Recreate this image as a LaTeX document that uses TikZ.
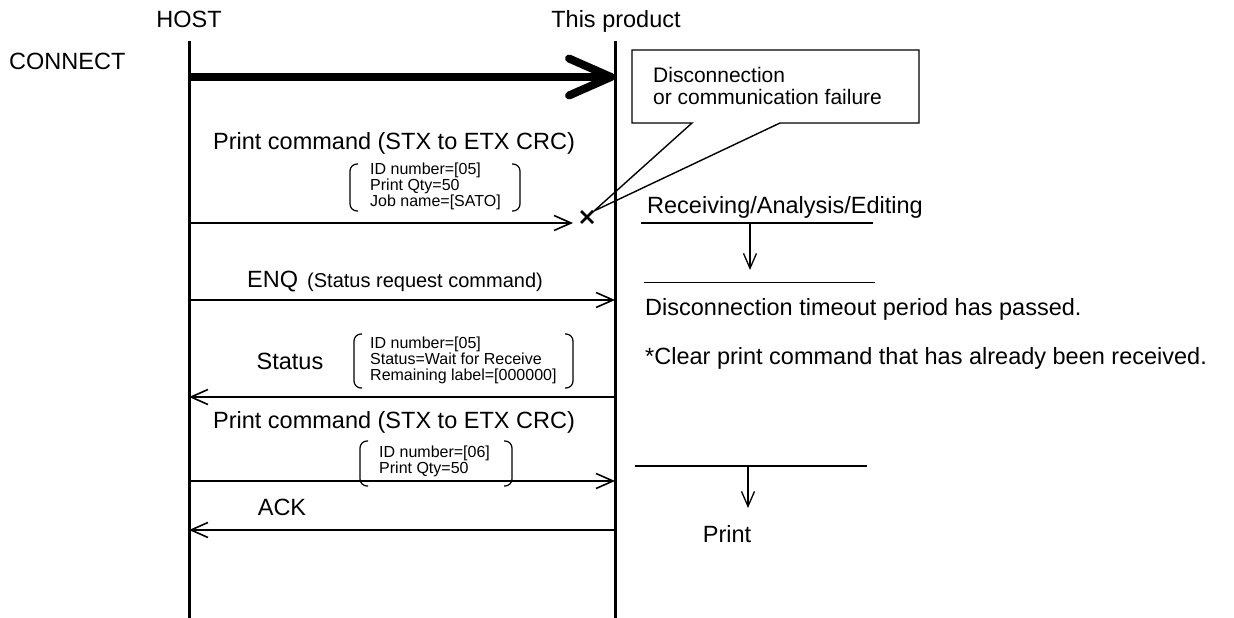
\documentclass[tikz,border=0pt]{standalone}
\usepackage{fontspec}
\setmainfont{Liberation Sans}
\usetikzlibrary{arrows.meta}
\newcommand{\brk}[4]{%
  \draw[paren] ({#1+8},#3) -- (#1,#3) -- (#1,#4) -- ({#1+8},#4);
  \draw[paren] ({#2-8},#3) -- (#2,#3) -- (#2,#4) -- ({#2-8},#4);}

\begin{document}
\begin{tikzpicture}[x=1pt, y=-1pt,
    life/.style={line width=3pt},
    connect/.style={line width=8pt, -{Straight Barb[length=42pt, width=37pt, round]}},
    msg/.style={line width=1.6pt, -{Straight Barb[length=17pt, width=15pt]}},
    flow/.style={line width=1.3pt, -{Straight Barb[length=15pt, width=13pt]}},
    bar/.style={line width=1.3pt},
    big/.style={font=\fontsize{23.5}{28}\selectfont, inner sep=0pt},
    mid/.style={font=\fontsize{20}{24}\selectfont, inner sep=0pt},
    note/.style={font=\fontsize{21}{22}\selectfont, inner sep=0pt, align=left, anchor=base west},
    small/.style={font=\fontsize{16}{16}\selectfont, inner sep=0pt, align=left, anchor=base west},
    paren/.style={line width=1.2pt, rounded corners=7pt}]
    \useasboundingbox (0,0) rectangle (1234,618);

    \node[big, anchor=base] (host) at (189,28) {HOST};
    \node[big, anchor=base] (prod) at (616,28) {This product};
    \node[big, anchor=base west] (conn) at (9,69.5) {CONNECT};
    \coordinate (hostTop) at (189,41);
    \coordinate (hostBot) at (189,618);
    \coordinate (prodTop) at (615,41);
    \coordinate (prodBot) at (615,618);
    \draw[life] (hostTop) -- (hostBot);
    \draw[life] (prodTop) -- (prodBot);

    \coordinate (yCon) at (0,77);
    \coordinate (yCmd) at (0,223);
    \coordinate (yEnq) at (0,300);
    \coordinate (ySts) at (0,397);
    \coordinate (yCmdB) at (0,481);
    \coordinate (yAck) at (0,530);
    \coordinate (lost) at (587,217);
    \coordinate (tip) at ([shift={(7,-6)}]lost);

    \draw[connect] (hostTop |- yCon) -- (prodTop |- yCon);
    \draw[msg] (hostTop |- yCmd) -- ([xshift=-14pt]lost |- yCmd);
    \draw[line width=2.6pt] ([shift={(-6,-6)}]lost) -- ([shift={(6,6)}]lost)
        ([shift={(-6,6)}]lost) -- ([shift={(6,-6)}]lost);
    \draw[msg] (hostTop |- yEnq) -- (prodTop |- yEnq);
    \draw[msg] (prodTop |- ySts) -- (hostTop |- ySts);
    \draw[msg] (hostTop |- yCmdB) -- (prodTop |- yCmdB);
    \draw[msg] (prodTop |- yAck) -- (hostTop |- yAck);

    \node[note] (fail) at (653,104) {Disconnection\\or communication failure};
    \draw[line width=1.4pt] (632,50) -- (919,50) -- (919,123) -- (780,123)
        -- (tip) -- (692,123) -- (632,123) -- cycle;

    \node[big, anchor=base] (cmdA) at (394,149) {Print command (STX to ETX CRC)};
    \node[small] (cmdAarg) at (370,206) {ID number=[05]\\Print Qty=50\\Job name=[SATO]};
    \brk{350}{520}{164}{211}
    \node[big, anchor=base west] (enq) at (247,287) {ENQ};
    \node[mid, anchor=base west] (enqNote) at (307,287) {(Status request command)};
    \node[big, anchor=base] (sts) at (290,369) {Status};
    \node[small] (stsArg) at (370,380) {ID number=[05]\\Status=Wait for Receive\\Remaining label=[000000]};
    \brk{354}{573}{334}{388}
    \node[big, anchor=base] (cmdB) at (394,428) {Print command (STX to ETX CRC)};
    \node[small] (cmdBarg) at (379,473) {ID number=[06]\\Print Qty=50};
    \brk{360}{512}{441}{486}
    \node[big, anchor=base] (ack) at (282,515) {ACK};

    \node[big, anchor=base west] (recv) at (647,213) {Receiving/Analysis/Editing};
    \coordinate (r1a) at (641,223);
    \coordinate (r1b) at (873,223);
    \coordinate (r2a) at (644,282.5);
    \coordinate (r2b) at (875,282.5);
    \coordinate (r3a) at (635,466);
    \coordinate (r3b) at (867,466);
    \draw[bar] (r1a) -- (r1b);
    \draw[bar] (r2a) -- (r2b);
    \draw[bar] (r3a) -- (r3b);
    \draw[flow] (750,223) coordinate (d1a) -- (750,270) coordinate (d1b);
    \draw[flow] (748,466) coordinate (d2a) -- (748,508) coordinate (d2b);
    \node[big, anchor=base west] (tout) at (645,315) {Disconnection timeout period has passed.};
    \node[big, anchor=base west] (clr) at (645,364) {*Clear print command that has already been received.};
    \node[big, anchor=base] (prt) at (727,542) {Print};
\end{tikzpicture}
\end{document}
